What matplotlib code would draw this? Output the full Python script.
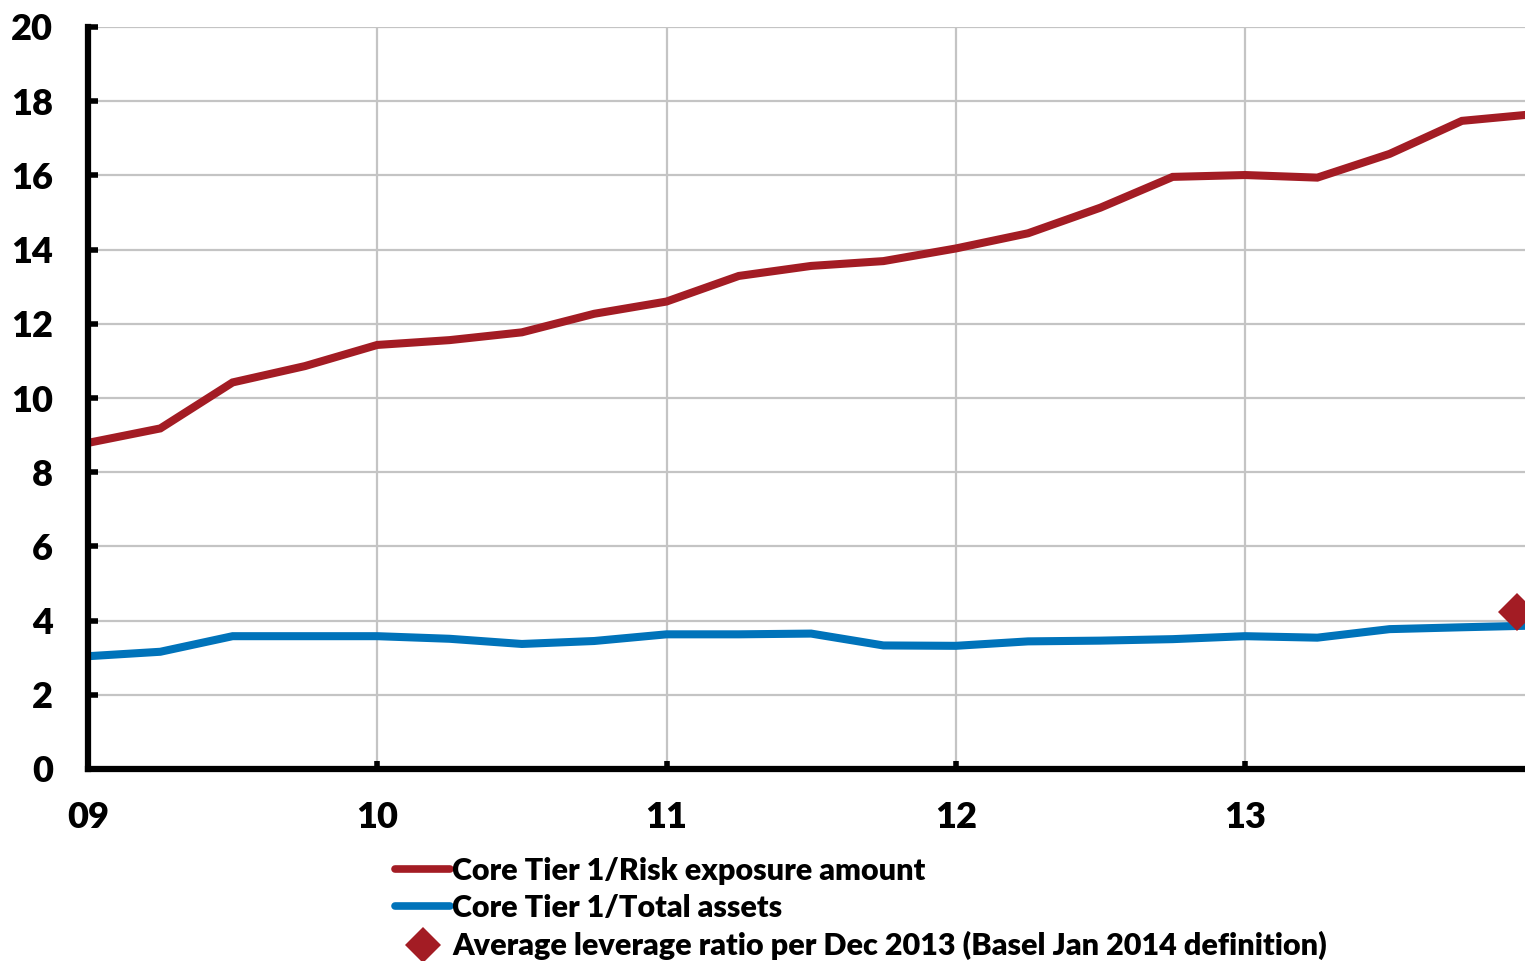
import matplotlib
matplotlib.use("Agg")
import matplotlib.pyplot as plt
from matplotlib.lines import Line2D

plt.rcParams['font.family'] = ['Lato', 'DejaVu Sans']
plt.rcParams['font.weight'] = 'heavy'

# Quarterly observations, x in years since start of 2009
quarters = [0.0, 0.25, 0.5, 0.75, 1.0, 1.25, 1.5, 1.75, 2.0, 2.25, 2.5,
            2.75, 3.0, 3.25, 3.5, 3.75, 4.0, 4.25, 4.5, 4.75, 4.97]
ct1_rea = [8.79, 9.18, 10.42, 10.86, 11.43, 11.56, 11.77, 12.27, 12.60, 13.29,
           13.56, 13.69, 14.03, 14.44, 15.13, 15.96, 16.01, 15.94, 16.58, 17.47,
           17.63]
ct1_assets = [3.04, 3.16, 3.58, 3.58, 3.58, 3.51, 3.37, 3.45, 3.63, 3.63,
              3.65, 3.33, 3.32, 3.44, 3.46, 3.50, 3.58, 3.54, 3.77, 3.82,
              3.86]
leverage_x = [4.94]
leverage_y = [4.23]

year_ticks = [0, 1, 2, 3, 4]
year_labels = ['09', '10', '11', '12', '13']
y_ticks = list(range(0, 21, 2))

label_rea = 'Core Tier 1/Risk exposure amount'
label_assets = 'Core Tier 1/Total assets'
label_lev = 'Average leverage ratio per Dec 2013 (Basel Jan 2014 definition)'

red = '#A31C24'
blue = '#0073BA'

fig = plt.figure(figsize=(15.25, 9.61), dpi=100)
ax = fig.add_axes([88 / 1525, 1 - 769 / 961, 1 - 88 / 1525, (769 - 27) / 961])

ax.plot(quarters, ct1_rea, color=red, lw=5.8, solid_capstyle='butt',
        solid_joinstyle='miter', zorder=3)
ax.plot(quarters, ct1_assets, color=blue, lw=5.8, solid_capstyle='butt',
        solid_joinstyle='miter', zorder=3)
ax.plot(leverage_x, leverage_y, linestyle='none', marker='D', ms=19,
        color=red, markeredgewidth=0, zorder=4, clip_on=False)

ax.set_xlim(0, 4.968)
ax.set_ylim(0, 20)
ax.set_xticks(year_ticks)
ax.set_xticklabels(year_labels)
ax.set_yticks(y_ticks)

ax.grid(True, color='#c4c4c4', lw=1.6, zorder=0)
ax.set_axisbelow(True)

for side in ['top', 'right']:
    ax.spines[side].set_visible(False)
for side in ['left', 'bottom']:
    ax.spines[side].set_linewidth(4.5)
    ax.spines[side].set_color('black')
    ax.spines[side].set_zorder(5)
    ax.spines[side].set_capstyle('projecting')

ax.tick_params(axis='y', direction='in', length=7, width=4, pad=25,
               labelsize=26, colors='black')
ax.tick_params(axis='x', direction='in', length=6, width=4, pad=23,
               labelsize=26, colors='black')
for lab in ax.get_xticklabels() + ax.get_yticklabels():
    lab.set_fontweight('heavy')

handles = [
    Line2D([], [], color=red, lw=5.5, solid_capstyle='round'),
    Line2D([], [], color=blue, lw=5.5, solid_capstyle='round'),
    Line2D([], [], color=red, marker='D', ms=18, linestyle='none',
           markeredgewidth=0),
]
leg = fig.legend(handles, [label_rea, label_assets, label_lev],
                 loc='upper left', bbox_to_anchor=(395 / 1525, 1 - 857 / 961),
                 frameon=False, handlelength=1.8,
                 handletextpad=0.08, labelspacing=0.3, borderpad=0,
                 borderaxespad=0, prop={'weight': 'heavy', 'size': 22})

fig.savefig('out.png', dpi=100, facecolor='white')
